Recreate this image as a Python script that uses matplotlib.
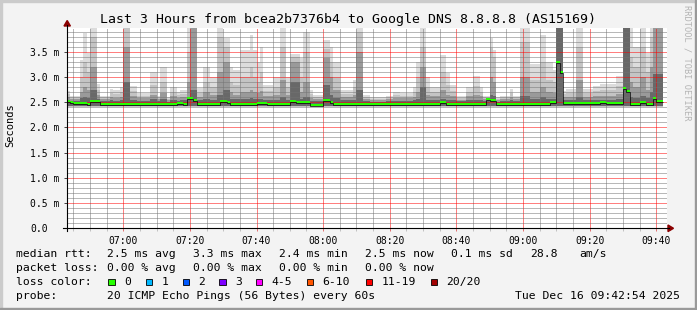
import numpy as np
import matplotlib.pyplot as plt
from matplotlib.patches import Polygon, Rectangle
from matplotlib.lines import Line2D

W, H = 697, 310
MONO = 'DejaVu Sans Mono'

# smoke, one run = consecutive minutes with similar pings (values in ms)
run_len = [1, 3, 1, 1, 1, 2, 1, 3, 1, 2, 1, 2, 2, 4, 2, 1, 2, 1, 2, 1,
           2, 1, 2, 2, 2, 2, 2, 2, 1, 2, 3, 1, 1, 1, 1, 3, 2, 2, 1, 3,
           1, 2, 1, 3, 2, 1, 2, 4, 1, 2, 2, 5, 2, 2, 4, 1, 1, 2, 1, 3,
           2, 1, 2, 3, 2, 2, 1, 2, 1, 1, 1, 3, 1, 2, 3, 3, 2, 2, 1, 2,
           1, 3, 2, 3, 2, 5, 2, 2, 1, 2, 2, 1, 1, 3]
run_max = [2.72, 2.63, 3.33, 3.87, 3.47, 3.97, 2.87, 2.63, 2.76, 2.75, 2.80, 3.97, 2.82, 2.68, 3.10, 2.63, 3.20, 2.60, 2.80, 2.70,
           2.75, 3.97, 3.97, 2.78, 3.20, 3.00, 3.97, 3.77, 3.20, 3.15, 3.53, 3.83, 3.53, 3.30, 3.60, 2.85, 3.00, 3.97, 3.00, 3.45,
           3.37, 3.90, 2.75, 2.65, 3.73, 3.60, 3.30, 2.75, 2.95, 3.97, 2.65, 2.60, 2.63, 2.70, 2.68, 2.80, 3.30, 3.97, 3.00, 2.80,
           3.43, 3.08, 2.85, 2.62, 2.80, 3.03, 2.80, 2.63, 3.77, 3.53, 2.60, 2.63, 2.77, 2.63, 3.97, 3.27, 3.83, 3.30, 3.15, 3.97,
           2.73, 2.76, 3.97, 2.76, 2.83, 2.86, 3.03, 3.97, 3.97, 3.60, 3.97, 3.47, 3.97, 3.97]
run_hi = [2.66, 2.60, 3.00, 3.30, 3.10, 3.80, 2.75, 2.60, 2.68, 2.66, 2.70, 3.97, 2.72, 2.63, 2.85, 2.60, 2.90, 2.57, 2.70, 2.64,
          2.66, 3.50, 3.97, 2.68, 2.90, 2.80, 3.80, 3.60, 2.90, 2.85, 3.00, 3.20, 3.00, 2.90, 3.10, 2.72, 2.80, 3.60, 2.80, 3.40,
          3.00, 3.50, 2.66, 2.60, 3.55, 3.30, 3.00, 2.67, 2.80, 3.90, 2.60, 2.57, 2.60, 2.64, 2.63, 2.70, 3.00, 3.60, 2.80, 2.70,
          3.10, 2.85, 2.72, 2.58, 2.70, 2.82, 2.70, 2.60, 3.57, 3.40, 2.57, 2.60, 2.68, 2.60, 3.70, 2.95, 3.30, 2.95, 2.90, 3.97,
          2.66, 2.68, 3.60, 2.68, 2.72, 2.74, 2.82, 3.97, 3.40, 3.20, 3.60, 3.10, 3.80, 3.97]
run_mid = [2.60, 2.56, 2.70, 2.80, 2.75, 3.20, 2.65, 2.56, 2.60, 2.58, 2.60, 3.60, 2.62, 2.58, 2.65, 2.56, 2.68, 2.54, 2.62, 2.58,
           2.60, 2.90, 3.97, 2.60, 2.70, 2.65, 3.10, 3.30, 2.70, 2.65, 2.70, 2.75, 2.70, 2.68, 2.72, 2.62, 2.65, 2.95, 2.65, 3.30,
           2.70, 2.90, 2.58, 2.56, 3.37, 3.00, 2.75, 2.60, 2.65, 3.50, 2.56, 2.54, 2.56, 2.58, 2.58, 2.60, 2.70, 3.20, 2.65, 2.62,
           2.75, 2.65, 2.62, 2.55, 2.62, 2.65, 2.62, 2.56, 3.00, 2.90, 2.54, 2.56, 2.60, 2.56, 3.00, 2.70, 2.80, 2.70, 2.68, 3.97,
           2.60, 2.60, 2.95, 2.60, 2.62, 2.63, 2.66, 3.97, 2.90, 2.80, 3.00, 2.75, 3.20, 3.97]
run_dark = [2.55, 2.52, 2.58, 2.60, 2.58, 2.75, 2.57, 2.52, 2.54, 2.53, 2.55, 2.90, 2.55, 2.53, 2.56, 2.52, 2.56, 2.51, 2.55, 2.53,
            2.55, 2.60, 2.75, 2.55, 2.56, 2.55, 2.65, 2.75, 2.57, 2.56, 2.57, 2.58, 2.57, 2.56, 2.57, 2.54, 2.55, 2.60, 2.55, 2.90,
            2.56, 2.60, 2.53, 2.52, 2.85, 2.65, 2.58, 2.54, 2.55, 2.75, 2.52, 2.51, 2.52, 2.53, 2.53, 2.55, 2.57, 2.80, 2.55, 2.55,
            2.57, 2.55, 2.54, 2.52, 2.55, 2.55, 2.55, 2.52, 2.65, 2.62, 2.51, 2.52, 2.54, 2.52, 2.62, 2.57, 2.60, 2.57, 2.56, 3.97,
            2.54, 2.54, 2.60, 2.54, 2.55, 2.55, 2.56, 3.97, 2.60, 2.58, 2.62, 2.58, 2.70, 3.07]

# median rtt runs (ms)
med_len = [1, 1, 4, 1, 3, 23, 2, 1, 2, 1, 7, 2, 1, 8, 3, 7, 2, 4, 4, 2, 1,
           7, 9, 16, 2, 12, 1, 2, 16, 2, 1, 1, 11, 2, 5, 1, 1, 3, 2, 2, 1, 2]
med_val = [2.51, 2.49, 2.46, 2.44, 2.50, 2.45, 2.47, 2.45, 2.56, 2.52, 2.44, 2.51, 2.48, 2.44, 2.47, 2.45, 2.51, 2.48, 2.43, 2.53, 2.49,
           2.45, 2.44, 2.45, 2.48, 2.45, 2.55, 2.52, 2.45, 2.49, 3.28, 3.08, 2.46, 2.48, 2.46, 2.77, 2.70, 2.45, 2.49, 2.45, 2.57, 2.51]

first_minute = 6 * 60 + 43        # 06:43
view_start = 6 * 60 + 43.1
view_end = view_start + 180

title = 'Last 3 Hours from bcea2b7376b4 to Google DNS 8.8.8.8 (AS15169)'

ping_max = np.repeat(run_max, run_len)
ping_hi = np.repeat(run_hi, run_len)
ping_mid = np.repeat(run_mid, run_len)
ping_dark = np.repeat(run_dark, run_len)
median = np.repeat(med_val, med_len)
edges = first_minute + np.arange(len(ping_max) + 1)

fig = plt.figure(figsize=(W / 100, H / 100), dpi=100, facecolor='#f3f3f3')
ax = fig.add_axes([67 / W, 1 - 228 / H, 599.5 / W, 200.2 / H])
ax.set_facecolor('white')

# smoke
for vals, floor, col in [(ping_max, 2.40, '#dcdcdc'), (ping_hi, 2.41, '#c4c4c4'),
                         (ping_mid, 2.42, '#9a9a9a'), (ping_dark, 2.43, '#686868')]:
    ax.stairs(vals, edges, baseline=floor, fill=True, color=col, lw=0, zorder=1)

# median with loss colour
ax.stairs(median + 0.04, edges, baseline=median, fill=True, color='#26ff00', lw=0, zorder=3)
ax.stairs(median, edges, baseline=None, color='black', lw=0.5, zorder=3.1)

ax.set_xlim(view_start, view_end)
ax.set_ylim(0, 3.98)

xmaj = np.arange(420, 581, 20)
ax.set_xticks(xmaj, [f'{m // 60:02d}:{m % 60:02d}' for m in xmaj])
ax.set_xticks(np.arange(405, 583, 5), minor=True)
ymaj = np.arange(0, 3.6, 0.5)
ax.set_yticks(ymaj, ['0.0'] + [f'{v:.1f} m' for v in ymaj[1:]])
ax.set_yticks(np.arange(0.1, 3.95, 0.1), minor=True)

ax.grid(which='minor', color=(0.45, 0.45, 0.45, 0.2), lw=0.72, ls=(0, (1, 1)))
ax.grid(which='major', color=(1, 0, 0, 0.24), lw=0.72, ls=(0, (1, 1)))
ax.set_axisbelow(False)

ax.tick_params(which='both', direction='out', labelsize=7, length=2.2, width=0.7)
ax.tick_params(axis='x', which='major', color='#e07070', pad=3.3)
ax.tick_params(axis='x', which='minor', color='#c0c0c0')
ax.tick_params(axis='y', which='major', color='#404040', pad=24.5)
ax.tick_params(axis='y', which='minor', length=0)
for lab in ax.get_xticklabels() + ax.get_yticklabels():
    lab.set_family(MONO)
for lab in ax.get_yticklabels():
    lab.set_ha('left')
for s in ax.spines.values():
    s.set_visible(False)


def fx(px):
    return px / W


def fy(py):
    return 1 - py / H


# axes lines and arrows
fig.add_artist(Line2D([fx(63), fx(669)], [fy(228.3), fy(228.3)], color='black', lw=0.8))
fig.add_artist(Line2D([fx(67.2), fx(67.2)], [fy(231), fy(25)], color='black', lw=0.8))
fig.add_artist(Polygon([(fx(668), fy(225)), (fx(673.5), fy(228.3)), (fx(668), fy(231.6))],
                       closed=True, color='#8b0000', transform=fig.transFigure))
fig.add_artist(Polygon([(fx(64), fy(26)), (fx(67.2), fy(20.5)), (fx(70.4), fy(26))],
                       closed=True, color='#8b0000', transform=fig.transFigure))

# frame shading
fig.add_artist(Rectangle((0, 0), fx(2), 1, color='#cbcbcb', transform=fig.transFigure))
fig.add_artist(Rectangle((0, fy(2)), 1, 2 / H, color='#cbcbcb', transform=fig.transFigure))
fig.add_artist(Rectangle((fx(695), 0), 2 / W, 1, color='#999999', transform=fig.transFigure))
fig.add_artist(Rectangle((0, 0), 1, 2 / H, color='#999999', transform=fig.transFigure))

fig.text(fx(348.5), fy(19), title, ha='center', va='center', family=MONO, size=9.5)
fig.text(fx(10.5), fy(125.5), 'Seconds', rotation=90, ha='center', va='center', family=MONO, size=7.5)
fig.text(fx(687), fy(5), 'RRDTOOL / TOBI OETIKER', rotation=270, ha='center', va='top',
         family=MONO, size=6.2, color='#b4b4b4')


def txt(px, py, s, **kw):
    fig.text(fx(px), fy(py), s, family=MONO, size=8.2, va='center', **kw)


cols = [107.3, 193.3, 279.3, 365.3, 451.3]
txt(16, 254.3, 'median rtt:')
for x, s in zip(cols, ['2.5 ms avg', '3.3 ms max', '2.4 ms min', '2.5 ms now', '0.1 ms sd']):
    txt(x, 254.3, s)
txt(530, 254.3, '28.8')
txt(579.3, 254.3, 'am/s')

txt(16, 267.7, 'packet loss:')
for x, s in zip(cols, ['0.00 % avg', '0.00 % max', '0.00 % min', '0.00 % now']):
    txt(x, 267.7, s)

loss_labels = ['0', '1', '2', '3', '4-5', '6-10', '11-19', '20/20']
loss_colors = ['#26ff00', '#00b8ff', '#0059ff', '#7e00ff', '#ff00ff', '#ff5500', '#ff0000', '#a10000']
box_x = [108.3, 145.7, 182.7, 219.3, 256, 306.7, 365.7, 430.7]
txt(16, 281.7, 'loss color:')
for bx, lab, c in zip(box_x, loss_labels, loss_colors):
    fig.add_artist(Rectangle((fx(bx), fy(285)), 6.4 / W, 6.4 / H, facecolor=c, edgecolor='black',
                             lw=0.6, transform=fig.transFigure))
    txt(bx + 15.5, 281.7, lab)

txt(16, 295.7, 'probe:')
txt(107.3, 295.7, '20 ICMP Echo Pings (56 Bytes) every 60s')
txt(680, 295.7, 'Tue Dec 16 09:42:54 2025', ha='right')

fig.savefig('out.png', dpi=100, facecolor=fig.get_facecolor())
